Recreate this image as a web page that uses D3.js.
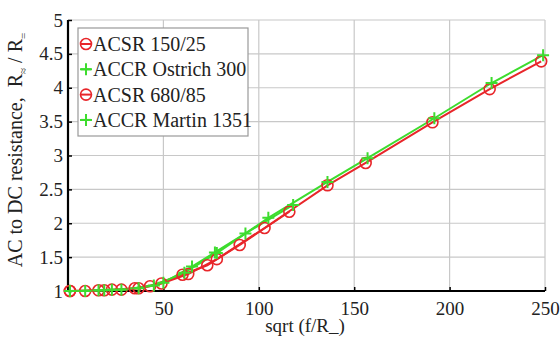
<!DOCTYPE html>
<html>
<head>
<meta charset="utf-8">
<script src="https://cdn.jsdelivr.net/npm/d3@7"></script>
<style>
  html, body { margin: 0; padding: 0; background: #fff; }
  svg { display: block; }
</style>
</head>
<body>
<svg id="chart" width="560" height="340"></svg>
<script>
// ---- data ----
const seriesNames = ["ACSR 150/25", "ACCR Ostrich 300", "ACSR 680/85", "ACCR Martin 1351"];
const acsr150X = [1, 16, 23, 35, 43, 60, 73, 90, 116];
const acsr150Y = [1.0, 1.01, 1.02, 1.04, 1.07, 1.24, 1.38, 1.68, 2.17];
const ostrichX = [1, 16, 23, 37, 50, 65, 77, 93, 118];
const ostrichY = [1.0, 1.01, 1.02, 1.04, 1.12, 1.36, 1.57, 1.85, 2.27];
const acsr680X = [1, 9, 19, 28, 37, 49, 63, 78, 103, 136, 156, 191, 221, 248];
const acsr680Y = [1.0, 1.0, 1.01, 1.02, 1.04, 1.11, 1.25, 1.47, 1.93, 2.56, 2.89, 3.49, 3.98, 4.39];
const martinX = [1, 9, 19, 28, 45, 61, 78, 105, 136, 157, 192, 222, 249];
const martinY = [1.0, 1.0, 1.01, 1.02, 1.08, 1.27, 1.56, 2.08, 2.61, 2.96, 3.55, 4.07, 4.48];
const xTicks = [50, 100, 150, 200, 250];
const yTicks = [1, 1.5, 2, 2.5, 3, 3.5, 4, 4.5, 5];

const RED = "#e8262a";
const GREEN = "#3ddc2e";
const FONT = "'Liberation Serif', 'Times New Roman', Times, serif";

const series = [
  { name: seriesNames[0], xs: acsr150X, ys: acsr150Y, color: RED, marker: "circle" },
  { name: seriesNames[1], xs: ostrichX, ys: ostrichY, color: GREEN, marker: "plus" },
  { name: seriesNames[2], xs: acsr680X, ys: acsr680Y, color: RED, marker: "circle" },
  { name: seriesNames[3], xs: martinX, ys: martinY, color: GREEN, marker: "plus" }
];

const svg = d3.select("#chart");
const mLeft = 68, mRight = 545, mTop = 20, mBottom = 291;
const x = d3.scaleLinear().domain([0, 250]).range([mLeft, mRight]);
const y = d3.scaleLinear().domain([1, 5]).range([mBottom, mTop]);

// grid
const grid = svg.append("g");
grid.selectAll("line.gx").data(xTicks).join("line")
  .attr("x1", d => x(d)).attr("x2", d => x(d)).attr("y1", mTop).attr("y2", mBottom)
  .attr("stroke", "#c8c8c8").attr("stroke-width", 1.2);
grid.selectAll("line.gy").data(yTicks).join("line")
  .attr("x1", mLeft).attr("x2", mRight).attr("y1", d => y(d)).attr("y2", d => y(d))
  .attr("stroke", "#c8c8c8").attr("stroke-width", 1.2);

// axes
const xAxis = d3.axisBottom(x).tickValues(xTicks).tickSize(-4).tickPadding(8).tickFormat(d3.format("d"));
const yAxis = d3.axisLeft(y).tickValues(yTicks).tickSize(-4).tickPadding(5).tickFormat(d => String(d));
const gx = svg.append("g").attr("transform", `translate(0,${mBottom})`).call(xAxis);
const gy = svg.append("g").attr("transform", `translate(${mLeft},0)`).call(yAxis);
[gx, gy].forEach(g => {
  g.attr("font-family", null).attr("font-size", null);
  g.select(".domain").attr("stroke", "#000").attr("stroke-width", 2.2);
  g.selectAll(".tick line").attr("stroke", "#000").attr("stroke-width", 1.5);
  g.selectAll(".tick text").style("font-family", FONT).style("font-size", "19px").attr("fill", "#222");
});
gx.select(".domain").attr("d", `M${mLeft},0H${mRight}`);
gy.select(".domain").attr("d", `M0,${mBottom}V${mTop}`);
gx.selectAll(".tick text").attr("dy", "0.85em");

// lines and markers
const line = d3.line().x(d => x(d[0])).y(d => y(d[1]));
const plot = svg.append("g");
series.forEach(s => {
  const pts = s.xs.map((v, i) => [v, s.ys[i]]);
  plot.append("path").datum(pts).attr("d", line)
    .attr("fill", "none").attr("stroke", s.color).attr("stroke-width", 2);
});
function drawMarker(g, type, cx, cy, color) {
  if (type === "circle") {
    g.append("circle").attr("cx", cx).attr("cy", cy).attr("r", 5.5)
      .attr("fill", "none").attr("stroke", color).attr("stroke-width", 1.6);
  } else {
    g.append("path").attr("d", `M${cx - 6},${cy}H${cx + 6}M${cx},${cy - 6}V${cy + 6}`)
      .attr("stroke", color).attr("stroke-width", 2);
  }
}
series.filter(s => s.marker === "circle").concat(series.filter(s => s.marker === "plus")).forEach(s => {
  s.xs.forEach((v, i) => drawMarker(plot, s.marker, x(v), y(s.ys[i]), s.color));
});

// legend
const lg = svg.append("g");
lg.append("rect").attr("x", 78).attr("y", 28).attr("width", 170).attr("height", 108)
  .attr("fill", "#fff").attr("stroke", "#999").attr("stroke-width", 1.2);
series.forEach((s, i) => {
  const yy = 44 + i * 25.3;
  lg.append("line").attr("x1", 81).attr("x2", 91).attr("y1", yy).attr("y2", yy)
    .attr("stroke", s.color).attr("stroke-width", 2);
  drawMarker(lg, s.marker, 86, yy, s.color);
  lg.append("text").attr("x", 93).attr("y", yy).attr("dy", "0.35em")
    .style("font-family", FONT).style("font-size", "20px").attr("fill", "#222").text(s.name);
});

// axis labels
svg.append("text").attr("x", 305).attr("y", 332).attr("text-anchor", "middle")
  .style("font-family", FONT).style("font-size", "19px").attr("fill", "#222").text("sqrt (f/R_)");
const yl = svg.append("text").attr("transform", "translate(22,150) rotate(-90)")
  .attr("text-anchor", "middle").style("font-family", FONT).style("font-size", "20px").attr("fill", "#222");
yl.append("tspan").text("AC to DC resistance,\u00a0\u00a0R");
yl.append("tspan").style("font-size", "11px").attr("dy", 5).text("\u2248");
yl.append("tspan").attr("dy", -5).text(" / R");
yl.append("tspan").style("font-size", "11px").attr("dy", 5).text("=");
</script>
</body>
</html>
